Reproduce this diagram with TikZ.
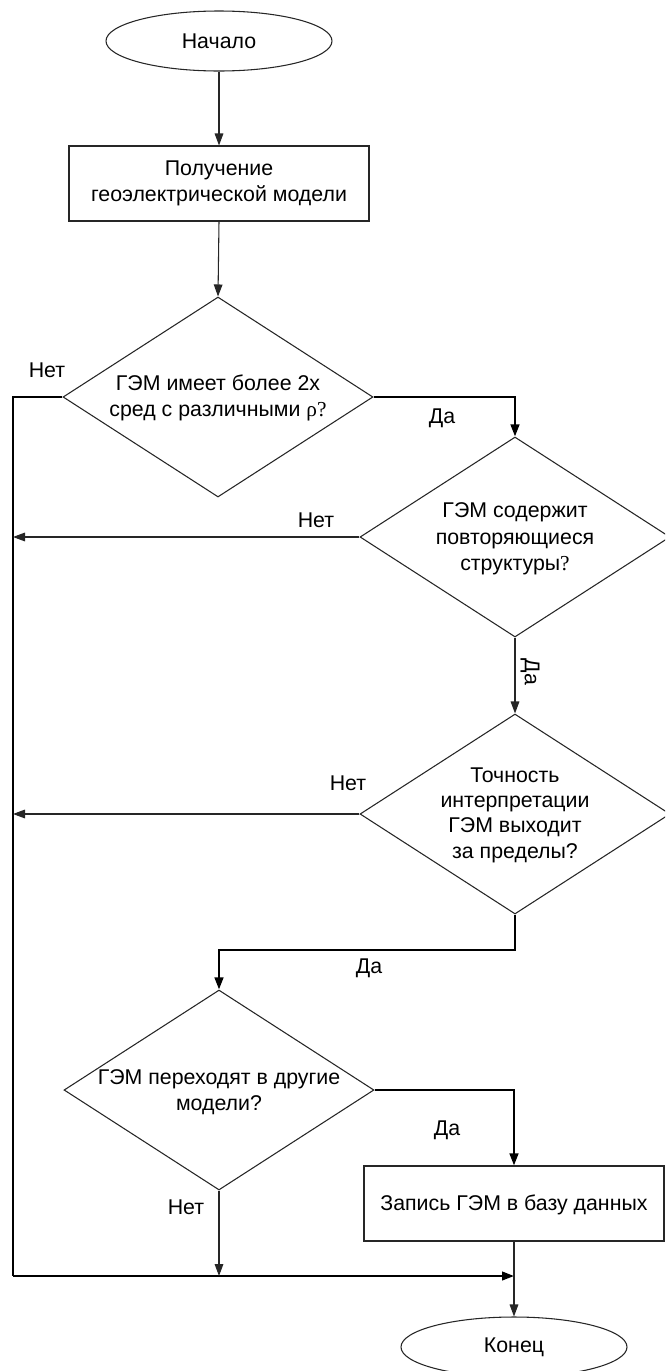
\documentclass[tikz,border=0pt]{standalone}
\usepackage{fontspec}
\setmainfont{Liberation Sans}
\newfontfamily\rhofont{Liberation Serif}
\usetikzlibrary{arrows.meta,shapes.geometric}
\begin{document}
\begin{tikzpicture}[x=0.75pt,y=-0.75pt,
  ln/.style={draw=black!85,line width=0.8pt},
  thk/.style={draw=black,line width=1.6pt},
  arr/.style={-{Triangle[length=9pt,width=6.5pt]}},
  txt/.style={font=\fontsize{16pt}{20pt}\selectfont,align=center,inner sep=0pt},
  lbl/.style={font=\fontsize{16pt}{20pt}\selectfont,inner sep=0pt},
  term/.style={ellipse,draw=black!85,line width=0.8pt,inner sep=0pt,minimum width=169.5pt,minimum height=45pt},
  proc/.style={rectangle,draw=black!85,line width=0.8pt,inner sep=0pt,minimum width=225pt,minimum height=56.25pt},
  dec/.style={diamond,draw=black!85,line width=0.8pt,inner sep=0pt,minimum width=232.5pt,minimum height=150pt}]
\useasboundingbox (0,0) rectangle (665,1371);
\clip (0,0) rectangle (665,1371);
% shapes
\node[term] (start) at (219,41) {};
\node[txt] (starttxt) at (219,41) {Начало};
\node[proc] (box1) at (219,183.5) {};
\node[txt] (box1txt) at (219,183.5) {Получение\\геоэлектрической модели};
\node[dec] (d1) at (218,397) {};
\node[txt] (d1txt) at (218,398) {ГЭМ имеет более 2х\\сред с различными {\rhofont ρ?}};
\node[dec] (d2) at (515,537) {};
\node[txt] (d2txt) at (515,539) {ГЭМ содержит\\повторяющиеся\\структуры{\rhofont ?}};
\node[dec] (d3) at (515,814) {};
\node[txt,font=\fontsize{16pt}{19pt}\selectfont] (d3txt) at (515,815) {Точность\\интерпретации\\ГЭМ выходит\\за пределы?};
\node[dec] (d4) at (219,1090) {};
\node[txt] (d4txt) at (219,1092) {ГЭМ переходят в другие\\модели?};
\node[proc] (box2) at (514,1203.5) {};
\node[txt] (box2txt) at (514,1205) {Запись ГЭМ в базу данных};
\node[term] (end) at (514,1347) {};
\node[txt] (endtxt) at (514,1347) {Конец};
% helper coordinates
\coordinate (lx) at (13,397);
\coordinate (bl) at (13,1276);
\coordinate (d3b) at (515,950);
% connectors
\draw[ln,arr] (start.south) -- (box1.north);
\draw[ln,arr] (box1.south) -- (d1.north);
\draw[thk] (d1.west) -- (lx) -- (bl);
\draw[thk,arr] (bl) -- (bl -| end.north);
\draw[thk,arr] (d1.east) -| (d2.north);
\draw[ln,arr] (d2.west) -- (d2.west -| lx);
\draw[ln,arr] (d2.south) -- (d3.north);
\draw[ln,arr] (d3.west) -- (d3.west -| lx);
\draw[thk,arr] (d3.south) -- (d3b) -| (d4.north);
\draw[thk,arr] (d4.east) -| (box2.north);
\draw[ln,arr] (d4.south) -- (d4.south |- bl);
\draw[ln,arr] (box2.south) -- (end.north);
% labels
\node[lbl] (l1n) at (47,370) {Нет};
\node[lbl] (l1y) at (442,418) {Да};
\node[lbl] (l2n) at (316,520) {Нет};
\node[lbl,rotate=-90] (l2y) at (530,672) {Да};
\node[lbl] (l3n) at (348,783) {Нет};
\node[lbl] (l3y) at (369,968) {Да};
\node[lbl] (l4y) at (447,1130) {Да};
\node[lbl] (l4n) at (186,1207) {Нет};
\end{tikzpicture}
\end{document}
